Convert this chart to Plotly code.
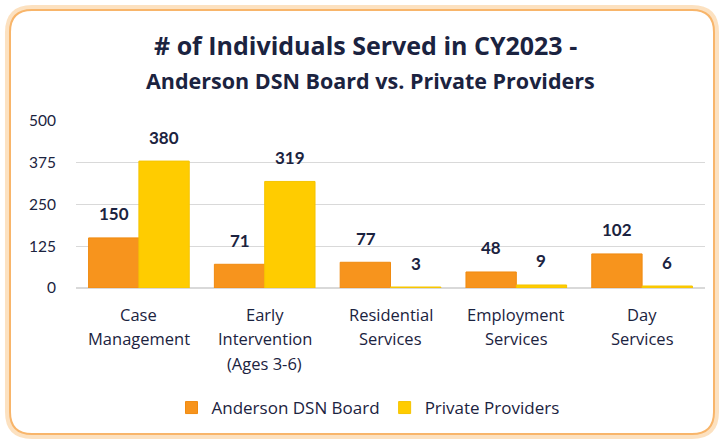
import plotly.graph_objects as go

categories = ["Case Management", "Early Intervention (Ages 3-6)", "Residential Services",
              "Employment Services", "Day Services"]
tick_lines = [["Case", "Management"], ["Early", "Intervention", "(Ages 3-6)"],
              ["Residential", "Services"], ["Employment", "Services"], ["Day", "Services"]]
anderson = [150, 71, 77, 48, 102]
private = [380, 319, 3, 9, 6]
y_ticks = [0, 125, 250, 375, 500]

W, H = 721, 440
L, R, T, B = 76, 16, 121, 152
PW, PH = W - L - R, H - T - B
TXT = "#1B2340"
FONT = "Lato"

def px(x):
    return (x - L) / PW

def py(y):
    return (H - B - y) / PH

def rrect(x0, y0, x1, y1, r):
    def P(x, y):
        return f"{px(x):.5f},{py(y):.5f}"
    return (f"M {P(x0 + r, y0)} L {P(x1 - r, y0)} Q {P(x1, y0)} {P(x1, y0 + r)} "
            f"L {P(x1, y1 - r)} Q {P(x1, y1)} {P(x1 - r, y1)} L {P(x0 + r, y1)} "
            f"Q {P(x0, y1)} {P(x0, y1 - r)} L {P(x0, y0 + r)} Q {P(x0, y0)} {P(x0 + r, y0)} Z")

fig = go.Figure()
fig.add_bar(x=categories, y=anderson, name="Anderson DSN Board", marker_color="#F7941D",
            marker_line_color="#F08A10", marker_line_width=1)
fig.add_bar(x=categories, y=private, name="Private Providers", marker_color="#FFCC00",
            marker_line_color="#F5C400", marker_line_width=1)

annotations = []
for i, c in enumerate(categories):
    for v, sh in ((anderson[i], -25), (private[i], 25)):
        annotations.append(dict(x=c, y=v, xref="x", yref="y", text=str(v), showarrow=False,
                                xshift=sh, yshift=24, yanchor="middle",
                                font=dict(family=FONT, size=17, color=TXT, weight="bold")))
    for k, line in enumerate(tick_lines[i]):
        annotations.append(dict(x=c, y=py(314 + 24.5 * k), xref="x", yref="paper", text=line,
                                showarrow=False, yanchor="middle",
                                font=dict(family="Open Sans", size=16.5, color=TXT)))
annotations.append(dict(x=px(365), y=py(45), xref="paper", yref="paper", showarrow=False,
                        text="# of Individuals Served in CY2023 -", yanchor="middle",
                        font=dict(family="Open Sans", size=25, color=TXT, weight="bold")))
annotations.append(dict(x=px(370), y=py(80), xref="paper", yref="paper", showarrow=False,
                        text="Anderson DSN Board vs. Private Providers", yanchor="middle",
                        font=dict(family="Open Sans", size=21.5, color=TXT, weight="bold")))

shapes = [
    dict(type="path", xref="paper", yref="paper", path=rrect(8, 8, 716, 436, 24),
         line=dict(color="rgba(250,200,140,0.55)", width=6), fillcolor="rgba(0,0,0,0)", layer="below"),
    dict(type="path", xref="paper", yref="paper", path=rrect(10, 10, 714, 434, 22),
         line=dict(color="#F8B56A", width=2), fillcolor="white", layer="below"),
]

fig.update_layout(
    width=W, height=H, margin=dict(l=L, r=R, t=T, b=B),
    paper_bgcolor="white", plot_bgcolor="rgba(0,0,0,0)",
    barmode="group", bargap=0.2, bargroupgap=0,
    font=dict(family=FONT, size=15, color=TXT),
    showlegend=True,
    legend=dict(orientation="h", x=px(368), y=py(408), xanchor="center", yanchor="middle",
                font=dict(family="Open Sans", size=17, color=TXT), itemwidth=30,
                traceorder="normal", bgcolor="rgba(0,0,0,0)"),
    annotations=annotations, shapes=shapes,
)
fig.update_yaxes(range=[0, 500], tickvals=y_ticks, showgrid=True, gridcolor="#D9D9D9",
                 zeroline=True, zerolinecolor="#D9D9D9", ticks="", showline=False,
                 tickfont=dict(size=15.5, color=TXT), ticklabelstandoff=19)
fig.update_xaxes(showline=True, linecolor="#D9D9D9", ticks="", showticklabels=False)

fig.write_html("out.html", config={"displayModeBar": False},
               post_script="document.body.style.margin='0';")
